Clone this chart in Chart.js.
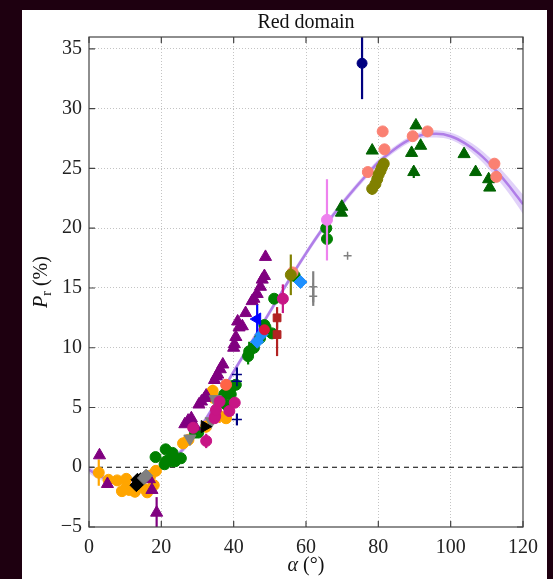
<!DOCTYPE html>
<html>
<head>
<meta charset="utf-8">
<title>Red domain</title>
<script src="https://cdn.jsdelivr.net/npm/chart.js"></script>
<style>
  body { margin: 0; background: #1e0010; width: 553px; height: 579px; overflow: hidden; }
  #panel { position: absolute; left: 22px; top: 10px; width: 525px; height: 569px; background: #fff; }
</style>
</head>
<body>
<div id="panel"><canvas id="chart" width="525" height="569"></canvas></div>
<script>
// model curve and its band half-width
const curveA = [0, 2, 5, 8, 10, 13, 16, 20, 24, 28, 32, 36, 40, 44, 48, 52, 56, 60, 64, 68, 72, 76, 80, 84, 88, 92, 96, 100, 104, 108, 112, 116, 120];
const curveP = [-0.2, -0.6, -1.0, -1.2, -1.2, -1.0, -0.6, 0.0, 0.9, 2.2, 3.9, 5.9, 8.0, 10.0, 12.0, 14.0, 16.0, 17.9, 19.7, 21.3, 22.8, 24.2, 25.5, 26.5, 27.3, 27.8, 27.9, 27.7, 27.1, 26.2, 25.0, 23.6, 22.0];
const bandHalf = [0.3, 0.3, 0.25, 0.25, 0.25, 0.25, 0.25, 0.25, 0.25, 0.25, 0.25, 0.25, 0.25, 0.25, 0.25, 0.25, 0.25, 0.25, 0.25, 0.25, 0.25, 0.25, 0.25, 0.25, 0.25, 0.25, 0.3, 0.3, 0.35, 0.45, 0.55, 0.65, 0.8];

// observations: [phase angle, Pr, error]
const purpleTri = [[2.9, 1.0, 0], [5.1, -1.4, 0], [16.7, -1.0, 0], [17.4, -1.9, 0], [18.7, -3.8, 1.3],
  [26.5, 3.6, 0], [27.4, 3.9, 0], [28.3, 4.1, 0], [29.3, 3.4, 0], [30.4, 5.25, 0], [31.1, 5.5, 0], [32.0, 5.8, 0],
  [32.4, 6.0, 0], [34.7, 7.3, 0], [35.2, 7.6, 0], [35.6, 7.75, 0], [36.3, 8.2, 0], [37.0, 8.6, 0], [40.0, 10.0, 0],
  [40.2, 10.3, 0], [40.6, 10.9, 0], [41.1, 12.2, 0], [41.5, 11.7, 0], [42.4, 11.8, 0], [43.3, 12.9, 0],
  [45.1, 13.9, 0], [45.6, 14.1, 0], [46.5, 14.5, 0], [47.4, 15.1, 0], [47.9, 15.7, 0], [48.5, 16.0, 0], [48.8, 17.6, 0]];
const orangeDots = [[2.7, -0.45, 1.1], [5.4, -1.05, 0], [7.8, -1.1, 0], [9.1, -2.0, 0], [10.3, -0.97, 0],
  [10.4, -1.65, 0], [11.1, -1.9, 0], [12.7, -2.05, 0.45], [15.6, -1.85, 0], [16.1, -2.1, 0], [17.0, -0.7, 0],
  [17.9, -1.5, 0], [18.5, -0.3, 0], [26.0, 2.0, 0], [27.5, 2.3, 0], [32.4, 3.4, 0.5], [34.2, 6.4, 0.5],
  [34.5, 5.8, 0], [36.1, 4.3, 0.6], [37.9, 4.1, 0]];
const greenDots = [[18.4, 0.85, 0], [20.9, 0.25, 0], [21.2, 1.5, 0], [21.3, 0.5, 0], [22.0, 0.6, 0], [22.9, 0.5, 0],
  [23.1, 1.2, 0], [23.8, 0.5, 0], [25.4, 0.75, 0], [29.3, 2.9, 0], [30.2, 2.9, 0], [37.4, 6.1, 0], [37.9, 5.25, 0],
  [38.6, 6.2, 0], [39.2, 6.1, 0], [39.7, 6.8, 0], [40.6, 6.9, 0], [44.0, 9.3, 0.7], [44.3, 9.7, 0.8], [45.6, 10.0, 0],
  [47.3, 10.8, 0], [48.5, 11.9, 0], [48.8, 11.7, 0], [50.6, 11.2, 0], [51.2, 14.1, 0], [56.9, 16.0, 0],
  [65.6, 20.0, 0], [65.8, 19.1, 0]];
const darkGreenTri = [[69.8, 21.3, 0], [69.9, 21.8, 0], [78.3, 26.5, 0], [89.2, 26.3, 0], [89.8, 24.7, 0.5],
  [90.4, 28.6, 0], [91.7, 26.9, 0], [103.7, 26.2, 0], [106.9, 24.7, 0], [110.5, 24.1, 0], [110.8, 23.4, 0]];
const salmonDots = [[56.3, 16.3, 0], [77.1, 24.7, 0], [81.2, 28.1, 0], [81.7, 26.6, 0], [89.5, 27.7, 0],
  [93.6, 28.1, 0], [112.1, 25.4, 0], [112.6, 24.3, 0]];
const oliveDots = [[55.8, 16.1, 1.7], [78.3, 23.3, 0.5], [79.2, 23.7, 0.5], [79.7, 24.1, 0.5], [80.1, 24.5, 0.5],
  [80.6, 24.8, 0.4], [81.0, 25.1, 0.4], [81.5, 25.4, 0.4]];
const blackDiamonds = [[13.1, -1.5, 0], [13.4, -1.05, 0], [13.8, -1.3, 0], [14.3, -1.0, 0]];
const grayDiamonds = [[15.2, -0.9, 0], [15.8, -0.7, 0]];
const grayDownTri = [[27.9, 2.4, 0], [33.8, 3.85, 0], [34.9, 5.7, 0], [35.5, 5.3, 0]];
const grayPlus = [[62.0, 15.1, 1.3], [62.0, 14.3, 0.8], [71.5, 17.7, 0]];
const blackRightTri = [[32.0, 3.4, 0]];
const navyPlus = [[40.9, 7.75, 0.6], [40.9, 7.2, 0], [40.9, 4.0, 0.5]];
const navyDots = [[75.5, 33.8, 3.0]];
const blueLeftTri = [[46.5, 12.4, 1.2]];
const skyDiamonds = [[46.5, 10.5, 0], [47.7, 11.1, 0], [58.5, 15.5, 0]];
const brickSquares = [[52.0, 12.5, 0.9], [52.0, 11.1, 1.8]];
const magentaDots = [[28.8, 3.3, 0], [32.4, 2.2, 0.6], [34.7, 4.1, 0], [34.9, 4.3, 0], [35.1, 4.8, 0],
  [36.1, 5.5, 0], [38.8, 4.7, 0], [40.3, 5.4, 0], [53.6, 14.1, 1.2]];
const violetDots = [[65.8, 20.7, 3.4]];
const tomatoDots = [[37.9, 6.9, 0]];
const crimsonDots = [[48.5, 11.5, 0]];

const xTicks = [0, 20, 40, 60, 80, 100, 120];
const yTicks = [-5, 0, 5, 10, 15, 20, 25, 30, 35];

const SERIF = '"Liberation Serif", "DejaVu Serif", serif';

function pts(arr) { return arr.map(p => ({ x: p[0], y: p[1] })); }

function series(arr, color, style, radius, rotation, width) {
  return {
    type: 'scatter', data: pts(arr), errs: arr.map(p => p[2]),
    backgroundColor: color, borderColor: color,
    pointStyle: style, pointRadius: radius, pointHoverRadius: radius,
    pointRotation: rotation || 0, borderWidth: width || 1
  };
}

const pointSets = [
  series(orangeDots, '#ffa500', 'circle', 5.5),
  series(greenDots, '#008000', 'circle', 5.5),
  series(purpleTri, '#800080', 'triangle', 7),
  series(darkGreenTri, '#006400', 'triangle', 7),
  series(salmonDots, '#fa8072', 'circle', 5.5),
  series(oliveDots, '#808000', 'circle', 5.5),
  series(grayDownTri, '#808080', 'triangle', 7, 180),
  series(blackDiamonds, '#000000', 'rectRot', 6.5),
  series(grayDiamonds, '#808080', 'rectRot', 6.5),
  series(grayPlus, '#808080', 'cross', 4, 0, 1.5),
  series(blackRightTri, '#000000', 'triangle', 7, 90),
  series(navyPlus, '#000080', 'cross', 5, 0, 1.5),
  series(navyDots, '#000080', 'circle', 5),
  series(blueLeftTri, '#0000ff', 'triangle', 7, -90),
  series(skyDiamonds, '#1e90ff', 'rectRot', 6.5),
  series(brickSquares, '#b22222', 'rect', 5.5),
  series(magentaDots, '#c71585', 'circle', 5.5),
  series(violetDots, '#ee82ee', 'circle', 5.5),
  series(tomatoDots, '#ff6347', 'circle', 5.5),
  series(crimsonDots, '#dc143c', 'circle', 5)
];
pointSets.forEach((d, i) => { d.order = -i; });

const datasets = [
  {
    type: 'line', data: curveA.map((a, i) => ({ x: a, y: curveP[i] + bandHalf[i] })),
    borderWidth: 0, pointRadius: 0, fill: '+1', backgroundColor: 'rgba(205,180,245,0.6)',
    cubicInterpolationMode: 'monotone', order: 30
  },
  {
    type: 'line', data: curveA.map((a, i) => ({ x: a, y: curveP[i] - bandHalf[i] })),
    borderWidth: 0, pointRadius: 0, fill: false, cubicInterpolationMode: 'monotone', order: 29
  },
  {
    type: 'line', data: curveA.map((a, i) => ({ x: a, y: curveP[i] })),
    borderColor: '#b07ee8', borderWidth: 2.5, pointRadius: 0, fill: false,
    cubicInterpolationMode: 'monotone', order: 20
  },
  {
    type: 'line', data: [{ x: 0, y: 0 }, { x: 120, y: 0 }],
    borderColor: '#000', borderWidth: 1.2, borderDash: [5, 4], pointRadius: 0, fill: false, order: 10
  }
].concat(pointSets);

const errorBars = {
  id: 'errorBars',
  beforeDatasetDraw(chart, args) {
    const ds = chart.data.datasets[args.index];
    if (!ds.errs) return;
    const { ctx, chartArea: a, scales: { x, y } } = chart;
    ctx.save();
    ctx.beginPath(); ctx.rect(a.left, a.top, a.width, a.height); ctx.clip();
    ctx.strokeStyle = ds.borderColor; ctx.lineWidth = 2.2;
    ds.data.forEach((p, i) => {
      const e = ds.errs[i];
      if (!e) return;
      const px = x.getPixelForValue(p.x);
      ctx.beginPath();
      ctx.moveTo(px, y.getPixelForValue(p.y - e));
      ctx.lineTo(px, y.getPixelForValue(p.y + e));
      ctx.stroke();
    });
    ctx.restore();
  }
};

const frame = {
  id: 'frame',
  afterDatasetsDraw(chart) {
    const { ctx, chartArea: a, scales: { x, y } } = chart;
    ctx.save();
    ctx.strokeStyle = '#444'; ctx.lineWidth = 1.2;
    ctx.strokeRect(a.left, a.top, a.width, a.height);
    ctx.beginPath();
    xTicks.forEach(v => {
      const px = x.getPixelForValue(v);
      ctx.moveTo(px, a.bottom); ctx.lineTo(px, a.bottom - 6);
      ctx.moveTo(px, a.top); ctx.lineTo(px, a.top + 6);
    });
    yTicks.forEach(v => {
      const py = y.getPixelForValue(v);
      ctx.moveTo(a.left, py); ctx.lineTo(a.left + 6, py);
      ctx.moveTo(a.right, py); ctx.lineTo(a.right - 6, py);
    });
    ctx.stroke();
    ctx.restore();
  },
  afterDraw(chart) {
    const { ctx, chartArea: a } = chart;
    const cx = (a.left + a.right) / 2;
    ctx.save();
    ctx.fillStyle = '#111';
    ctx.textAlign = 'center'; ctx.textBaseline = 'middle';
    ctx.font = '20px ' + SERIF;
    ctx.fillText('Red domain', cx, 13);

    // x label: α (°)
    ctx.font = 'italic 20px ' + SERIF;
    const w1 = ctx.measureText('α').width;
    ctx.font = '20px ' + SERIF;
    const w2 = ctx.measureText(' (°)').width;
    let sx = cx - (w1 + w2) / 2;
    ctx.textAlign = 'left';
    ctx.font = 'italic 20px ' + SERIF;
    ctx.fillText('α', sx, 556);
    ctx.font = '20px ' + SERIF;
    ctx.fillText(' (°)', sx + w1, 556);

    // y label: P_r (%)
    ctx.translate(20, (a.top + a.bottom) / 2);
    ctx.rotate(-Math.PI / 2);
    ctx.font = 'italic 20px ' + SERIF;
    const p1 = ctx.measureText('P').width;
    ctx.font = '14px ' + SERIF;
    const p2 = ctx.measureText('r').width;
    ctx.font = '20px ' + SERIF;
    const p3 = ctx.measureText(' (%)').width;
    sx = -(p1 + p2 + p3) / 2;
    ctx.font = 'italic 20px ' + SERIF;
    ctx.fillText('P', sx, 0);
    ctx.font = '14px ' + SERIF;
    ctx.fillText('r', sx + p1, 5);
    ctx.font = '20px ' + SERIF;
    ctx.fillText(' (%)', sx + p1 + p2, 0);
    ctx.restore();
  }
};

new Chart(document.getElementById('chart'), {
  type: 'scatter',
  data: { datasets },
  options: {
    responsive: false,
    animation: false,
    devicePixelRatio: 1,
    layout: { padding: { left: 0, top: 27, right: 19, bottom: 0 } },
    plugins: { legend: { display: false }, tooltip: { enabled: false } },
    scales: {
      x: {
        type: 'linear', min: 0, max: 120,
        afterFit(s) { s.height = 52; },
        afterBuildTicks(s) { s.ticks = xTicks.map(v => ({ value: v })); },
        grid: { color: c => (c.tick && (c.tick.value === 0 || c.tick.value === 120)) ? 'transparent' : '#c4c4c4', lineWidth: 1, drawTicks: false },
        border: { display: false, dash: [1, 2] },
        ticks: { color: '#222', padding: 9, font: { family: SERIF, size: 20 } }
      },
      y: {
        type: 'linear', min: -5, max: 36,
        afterFit(s) { s.width = 67; },
        afterBuildTicks(s) { s.ticks = yTicks.map(v => ({ value: v })); },
        grid: { color: c => (c.tick && (c.tick.value === 0 || c.tick.value === -5)) ? 'transparent' : '#c4c4c4', lineWidth: 1, drawTicks: false },
        border: { display: false, dash: [1, 2] },
        ticks: {
          color: '#222', padding: 7, font: { family: SERIF, size: 20 },
          callback: v => v < 0 ? '\u2212' + (-v) : String(v)
        }
      }
    }
  },
  plugins: [errorBars, frame]
});
</script>
</body>
</html>
